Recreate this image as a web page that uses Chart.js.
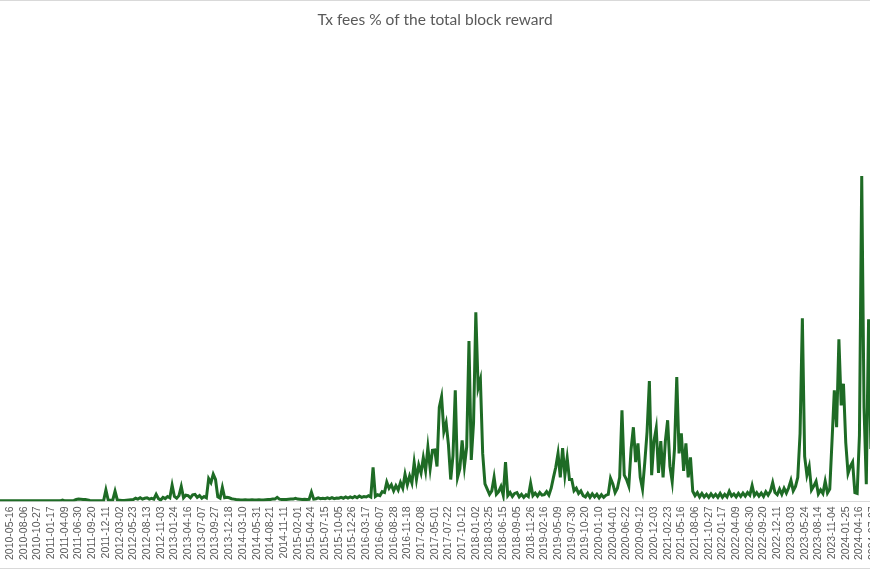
<!DOCTYPE html>
<html>
<head>
<meta charset="utf-8">
<script src="https://cdn.jsdelivr.net/npm/chart.js@4.4.1/dist/chart.umd.min.js"></script>
<style>
  html, body { margin: 0; padding: 0; background: #fff; overflow: hidden; }
  body { width: 870px; height: 570px; position: relative; }
  #wrap { position: absolute; left: -20px; top: 0; width: 910px; height: 570px; }
  #frame { position: absolute; left: 0; top: 0; width: 870px; height: 569px;
           border-top: 1px solid #d9d9d9; border-bottom: 1px solid #d9d9d9; box-sizing: border-box; pointer-events: none; }
</style>
</head>
<body>
<div id="wrap"><canvas id="feeChart"></canvas></div>
<div id="frame"></div>
<script>
// tick labels, one every 82 days
var tickLabels = [
  '2010-02-23','2010-05-16','2010-08-06','2010-10-27','2011-01-17','2011-04-09','2011-06-30','2011-09-20',
  '2011-12-11','2012-03-02','2012-05-23','2012-08-13','2012-11-03','2013-01-24','2013-04-16','2013-07-07',
  '2013-09-27','2013-12-18','2014-03-10','2014-05-31','2014-08-21','2014-11-11','2015-02-01','2015-04-24',
  '2015-07-15','2015-10-05','2015-12-26','2016-03-17','2016-06-07','2016-08-28','2016-11-18','2017-02-08',
  '2017-05-01','2017-07-22','2017-10-12','2018-01-02','2018-03-25','2018-06-15','2018-09-05','2018-11-26',
  '2019-02-16','2019-05-09','2019-07-30','2019-10-20','2020-01-10','2020-04-01','2020-06-22','2020-09-12',
  '2020-12-03','2021-02-23','2021-05-16','2021-08-06','2021-10-27','2022-01-17','2022-04-09','2022-06-30',
  '2022-09-20','2022-12-11','2023-03-03','2023-05-24','2023-08-14','2023-11-04','2024-01-25','2024-04-16',
  '2024-07-07'
];

// six samples per tick interval (one value about every 14 days)
var perTick = 6;

// tx fees as % of the total block reward (one row per tick interval)
var feePct = [
  0.1,0.1,0.1,0.1,0.1,0.1,        // 2010-02
  0.1,0.1,0.1,0.1,0.1,0.1,
  0.1,0.1,0.1,0.1,0.1,0.1,
  0.1,0.1,0.1,0.1,0.1,0.1,
  0.1,0.1,0.1,0.1,0.1,0.3,        // 2011-01
  0.1,0.1,0.1,0.15,0.2,0.4,
  0.5,0.45,0.4,0.4,0.3,0.2,
  0.15,0.1,0.1,0.1,0.1,0.15,
  2.6,0.3,0.25,0.3,2.3,0.3,       // 2011-12
  0.25,0.2,0.2,0.25,0.3,0.35,
  0.4,0.7,0.5,0.8,0.5,0.7,
  0.8,0.5,0.7,0.5,1.6,0.6,
  0.3,0.9,0.6,1.1,0.8,3.7,        // 2012-11
  1.1,0.7,1.3,3.4,0.8,1.4,
  1.3,0.8,1.5,1.6,0.9,1.3,
  0.7,1.1,0.8,5.2,4.3,6.2,
  5.0,1.0,0.7,3.2,0.8,0.9,        // 2013-09
  0.8,0.6,0.5,0.4,0.35,0.3,
  0.3,0.35,0.3,0.3,0.35,0.3,
  0.3,0.35,0.3,0.3,0.35,0.4,
  0.4,0.5,0.5,0.9,0.5,0.4,        // 2014-08
  0.4,0.4,0.45,0.5,0.5,0.7,
  0.5,0.45,0.4,0.45,0.4,0.45,
  2.1,0.5,0.6,0.8,0.6,0.7,
  0.6,0.8,0.6,0.85,0.6,0.75,      // 2015-07
  0.7,0.9,0.7,1.0,0.75,1.0,
  0.8,1.1,0.8,1.2,0.9,1.1,
  1.0,1.3,1.0,7.8,1.1,1.5,
  1.3,2.2,2.0,4.4,3.0,3.8,        // 2016-06
  2.4,3.6,2.6,4.3,3.0,6.2,
  3.8,5.8,4.2,8.9,5.0,8.3,
  6.5,10.0,7.0,12.4,7.5,11.7,
  11.8,8.0,21.6,24.0,16.0,18.0,   // 2017-05
  13.0,5.0,10.5,25.5,5.5,7.5,
  14.0,8.0,12.5,36.8,9.5,18.0,
  43.4,26.0,28.0,11.0,4.0,2.8,
  1.6,2.4,5.5,1.6,2.2,3.4,        // 2018-03
  1.4,9.0,1.3,2.0,1.1,1.8,
  2.0,1.0,1.6,0.9,1.5,1.1,
  4.1,1.3,1.9,1.2,2.0,1.4,
  1.5,2.2,1.4,3.0,5.5,7.8,        // 2019-02
  11.0,5.5,12.2,6.0,10.0,5.0,
  5.0,2.4,3.0,1.8,2.4,1.3,
  1.0,1.8,0.9,1.7,1.0,1.6,
  0.8,1.5,0.9,1.4,1.6,5.3,        // 2020-01
  4.0,2.0,3.0,5.5,20.9,6.0,
  5.0,3.5,12.0,17.0,9.0,13.3,
  5.5,2.8,9.0,16.0,27.6,6.0,
  13.8,16.8,6.5,13.8,5.5,13.8,    // 2020-12
  18.6,8.0,4.5,12.0,28.5,11.0,
  15.6,7.0,13.3,5.5,10.1,2.3,
  1.3,2.0,1.0,1.8,1.0,1.6,
  0.9,1.7,1.0,1.6,0.9,1.8,        // 2021-10
  0.9,1.6,1.0,2.3,1.2,1.7,
  1.0,1.8,1.1,1.9,1.2,2.0,
  1.4,3.6,1.3,2.0,1.2,1.9,
  1.1,2.2,1.4,2.3,4.3,2.0,        // 2022-09
  1.5,2.8,1.6,3.0,1.9,3.1,
  4.8,2.4,3.4,5.5,15.6,42.0,
  10.3,6.0,8.0,2.6,3.5,4.6,
  1.7,2.6,1.8,4.6,1.9,2.8,        // 2023-08
  14.0,25.5,17.0,37.2,22.0,27.0,
  13.5,6.4,8.0,9.0,2.0,1.8,
  15.2,74.7,21.6,3.9,41.8,12.0,
  15.0,10.0                       // 2024-07
];

var points = feePct.map(function (v, i) {
  return { x: i / perTick, y: v };
});

var ctx = document.getElementById('feeChart').getContext('2d');
var feeChart = new Chart(ctx, {
  type: 'line',
  data: {
    datasets: [{
      label: 'Tx fees %',
      data: points,
      borderColor: '#1e6b25',
      borderWidth: 3,
      pointRadius: 0,
      tension: 0,
      fill: false
    }]
  },
  options: {
    responsive: true,
    maintainAspectRatio: false,
    animation: false,
    layout: { padding: { left: 0, right: 0, top: 0, bottom: 5 } },
    plugins: {
      legend: { display: false },
      tooltip: { enabled: false },
      title: {
        display: true,
        text: 'Tx fees % of the total block reward',
        color: '#595959',
        font: { family: 'Lato', size: 15.5, weight: 'normal' },
        padding: { top: 11, bottom: 10 }
      }
    },
    scales: {
      x: {
        type: 'linear',
        min: -1.19,
        max: 65.23,
        grid: { display: false, drawTicks: false },
        border: { display: true, color: '#d9d9d9', width: 1 },
        afterFit: function (scale) {
          // labels may run off the edges, like the original
          scale.paddingLeft = 0;
          scale.paddingRight = 0;
        },
        ticks: {
          stepSize: 1,
          autoSkip: false,
          includeBounds: false,
          minRotation: 90,
          maxRotation: 90,
          padding: 5,
          color: '#595959',
          font: { family: 'Liberation Sans', size: 10.5 },
          callback: function (value) {
            return tickLabels[value] !== undefined ? tickLabels[value] : '';
          }
        }
      },
      y: {
        display: false,
        min: 0,
        max: 106
      }
    }
  }
});
</script>
</body>
</html>
